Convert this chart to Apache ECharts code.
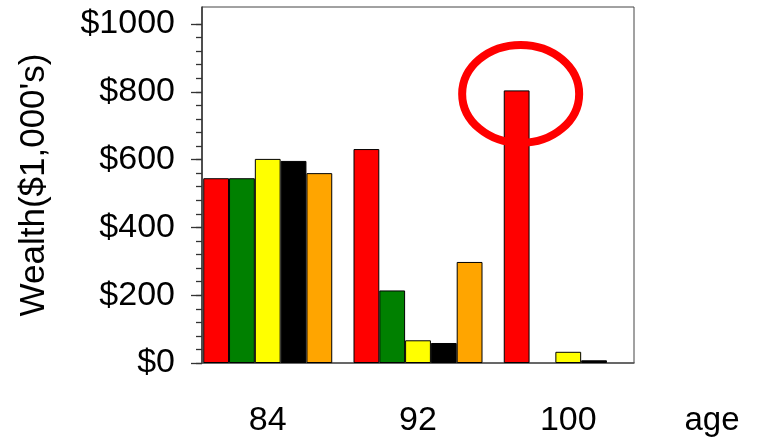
<!DOCTYPE html>
<html>
<head>
<meta charset="utf-8">
<script src="https://cdn.jsdelivr.net/npm/echarts@6/dist/echarts.min.js"></script>
<style>
  html, body { margin: 0; padding: 0; background: #fff; }
  #chart { width: 759px; height: 440px; }
</style>
</head>
<body>
<div id="chart"></div>
<script>
// Ages at which wealth is compared
const ages = [84, 92, 100];

// Wealth ($1,000's) per strategy at each age; null = nothing left to plot
const seriesRed    = [545, 631, 804];
const seriesGreen  = [545, 214, null];
const seriesYellow = [602, 67, 33];
const seriesBlack  = [596, 59, 8];
const seriesOrange = [560, 298, null];

// Axis ticks
const yTicks = [0, 200, 400, 600, 800, 1000];
const yMinorStep = 40;
const yMax = 1050;
const xMin = 80.5, xMax = 103.5;

const colors = ['#ff0000', '#008000', '#ffff00', '#000000', '#ffa500'];
const allSeries = [seriesRed, seriesGreen, seriesYellow, seriesBlack, seriesOrange];

const BAR_W = 25.8;
const FONT = '"Liberation Sans", Arial, sans-serif';

const minorTicks = [];
for (let v = 0; v <= yTicks[yTicks.length - 1]; v += yMinorStep) minorTicks.push(v);

const chart = echarts.init(document.getElementById('chart'), null, { renderer: 'canvas' });

const option = {
  animation: false,
  backgroundColor: '#ffffff',
  grid: {
    left: 202, right: 125, top: 7, bottom: 77,
    containLabel: false,
    outerBoundsMode: 'none',
    show: true, borderColor: '#444', borderWidth: 1, backgroundColor: 'transparent'
  },
  xAxis: {
    type: 'value',
    min: xMin, max: xMax,
    axisLine: { show: true, lineStyle: { color: '#555', width: 1.5 } },
    axisTick: { show: false },
    splitLine: { show: false },
    axisLabel: {
      customValues: ages,
      margin: 41,
      fontSize: 34, fontFamily: FONT, color: '#000'
    }
  },
  yAxis: [
    {
      type: 'value',
      min: 0, max: yMax,
      splitLine: { show: false },
      axisLine: { show: true, lineStyle: { color: '#333', width: 1.5 } },
      axisTick: {
        show: true, inside: false, length: 11,
        customValues: yTicks,
        lineStyle: { color: '#333', width: 1.3 }
      },
      axisLabel: {
        customValues: yTicks,
        margin: 27,
        fontSize: 34, fontFamily: FONT, color: '#000',
        formatter: v => '$' + v
      },
      name: "Wealth($1,000's)",
      nameLocation: 'middle',
      nameGap: 150,
      nameTextStyle: { fontSize: 35, fontFamily: FONT, color: '#000' }
    },
    {
      type: 'value',
      min: 0, max: yMax,
      position: 'left',
      splitLine: { show: false },
      axisLine: { show: false },
      axisLabel: { show: false },
      axisTick: {
        show: true, inside: false, length: 6,
        customValues: minorTicks,
        lineStyle: { color: '#333', width: 1.3 }
      }
    }
  ],
  series: allSeries.map((vals, i) => ({
    type: 'bar',
    xAxisIndex: 0,
    yAxisIndex: 0,
    barWidth: BAR_W,
    barGap: '0%',
    itemStyle: { color: colors[i], borderColor: '#000', borderWidth: 1 },
    data: ages.map((a, j) => vals[j] == null ? [a, null] : [a, vals[j]])
  })),
  graphic: []
};

chart.setOption(option);

// Highlight ring around the tallest bar (red strategy at age 100)
const peakPx = chart.convertToPixel({ xAxisIndex: 0, yAxisIndex: 0 }, [ages[2], seriesRed[2]]);
const redCenterX = peakPx[0] - 2 * BAR_W;
const xEndPx = chart.convertToPixel({ xAxisIndex: 0 }, xMax);
const xAxisYPx = chart.convertToPixel({ yAxisIndex: 0 }, 0);

chart.setOption({
  graphic: [
    {
      type: 'ellipse',
      shape: { cx: redCenterX + 4, cy: peakPx[1] + 3.5, rx: 58.5, ry: 49 },
      style: { fill: 'none', stroke: '#ff0000', lineWidth: 8 },
      z: 100
    },
    {
      type: 'text',
      x: xEndPx + 78, y: xAxisYPx + 58,
      style: {
        text: 'age', fontSize: 33, fontFamily: FONT, fill: '#000',
        align: 'center', verticalAlign: 'middle'
      }
    }
  ]
});
</script>
</body>
</html>
